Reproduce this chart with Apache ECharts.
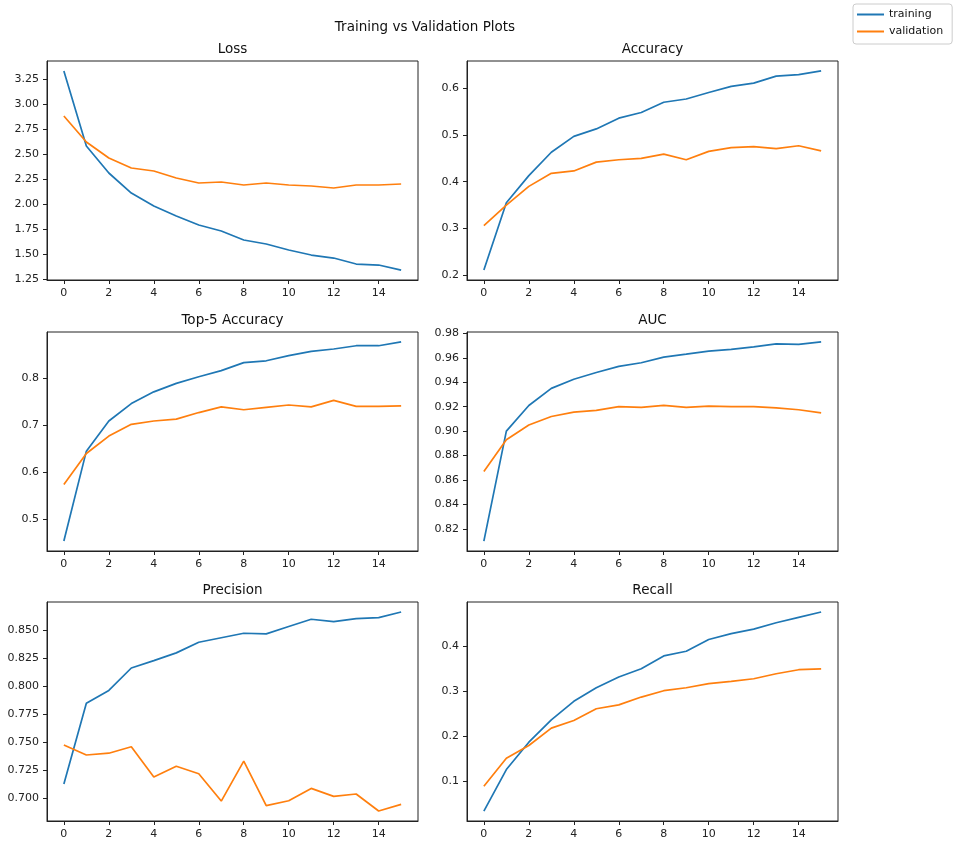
<!DOCTYPE html>
<html>
<head>
<meta charset="utf-8">
<script src="https://cdn.jsdelivr.net/npm/echarts@6/dist/echarts.min.js"></script>
<style>
  html, body { margin: 0; padding: 0; background: #fff; }
  #main { width: 954px; height: 843px; }
</style>
</head>
<body>
<div id="main"></div>
<script>
// epochs + tick labels
const epochs = [0, 1, 2, 3, 4, 5, 6, 7, 8, 9, 10, 11, 12, 13, 14, 15];
const xTicks = ['0', '2', '4', '6', '8', '10', '12', '14'];

// values
const lossTrain = [3.33, 2.58, 2.31, 2.11, 1.98, 1.88, 1.79, 1.73, 1.64, 1.60, 1.54, 1.49, 1.46, 1.40, 1.39, 1.34];
const lossVal   = [2.88, 2.62, 2.46, 2.36, 2.33, 2.26, 2.21, 2.22, 2.19, 2.21, 2.19, 2.18, 2.16, 2.19, 2.19, 2.20];
const lossTicks = ['1.25', '1.50', '1.75', '2.00', '2.25', '2.50', '2.75', '3.00', '3.25'];

const accTrain = [0.211, 0.355, 0.413, 0.463, 0.497, 0.513, 0.536, 0.548, 0.570, 0.577, 0.591, 0.604, 0.611, 0.626, 0.629, 0.637];
const accVal   = [0.306, 0.350, 0.390, 0.418, 0.423, 0.442, 0.447, 0.450, 0.459, 0.447, 0.465, 0.473, 0.475, 0.471, 0.477, 0.466];
const accTicks = ['0.2', '0.3', '0.4', '0.5', '0.6'];

const top5Train = [0.454, 0.645, 0.709, 0.746, 0.771, 0.789, 0.803, 0.816, 0.833, 0.837, 0.848, 0.857, 0.862, 0.869, 0.869, 0.877];
const top5Val   = [0.574, 0.640, 0.677, 0.702, 0.709, 0.713, 0.727, 0.739, 0.733, 0.738, 0.743, 0.739, 0.753, 0.740, 0.740, 0.741];
const top5Ticks = ['0.5', '0.6', '0.7', '0.8'];

const aucTrain = [0.810, 0.900, 0.921, 0.935, 0.9425, 0.948, 0.953, 0.956, 0.9606, 0.963, 0.9655, 0.967, 0.969, 0.9715, 0.971, 0.973];
const aucVal   = [0.867, 0.893, 0.905, 0.912, 0.9155, 0.917, 0.920, 0.9195, 0.921, 0.9195, 0.9205, 0.920, 0.920, 0.919, 0.9175, 0.915];
const aucTicks = ['0.82', '0.84', '0.86', '0.88', '0.90', '0.92', '0.94', '0.96', '0.98'];

const precTrain = [0.7125, 0.7845, 0.796, 0.816, 0.8226, 0.8295, 0.839, 0.843, 0.847, 0.8464, 0.853, 0.8595, 0.8574, 0.860, 0.861, 0.866];
const precVal   = [0.7473, 0.7384, 0.740, 0.7458, 0.7187, 0.7283, 0.7217, 0.6973, 0.733, 0.6932, 0.6976, 0.7086, 0.7015, 0.7036, 0.6884, 0.6943];
const precTicks = ['0.700', '0.725', '0.750', '0.775', '0.800', '0.825', '0.850'];

const recTrain = [0.0348, 0.1267, 0.1874, 0.237, 0.278, 0.308, 0.332, 0.350, 0.3785, 0.389, 0.415, 0.428, 0.438, 0.452, 0.464, 0.476];
const recVal   = [0.0896, 0.152, 0.180, 0.2185, 0.2356, 0.2615, 0.270, 0.2874, 0.3015, 0.308, 0.317, 0.322, 0.328, 0.339, 0.348, 0.350];
const recTicks = ['0.1', '0.2', '0.3', '0.4'];

const panels = [
  { name: 'Loss',           train: lossTrain, val: lossVal, ticks: lossTicks, left: 47,  top: 61 },
  { name: 'Accuracy',       train: accTrain,  val: accVal,  ticks: accTicks,  left: 467, top: 61 },
  { name: 'Top-5 Accuracy', train: top5Train, val: top5Val, ticks: top5Ticks, left: 47,  top: 332 },
  { name: 'AUC',            train: aucTrain,  val: aucVal,  ticks: aucTicks,  left: 467, top: 332 },
  { name: 'Precision',      train: precTrain, val: precVal, ticks: precTicks, left: 47,  top: 602 },
  { name: 'Recall',         train: recTrain,  val: recVal,  ticks: recTicks,  left: 467, top: 602 }
];
const W = 371, H = 219;
const FONT = 'DejaVu Sans';
const BLUE = '#1f77b4', ORANGE = '#ff7f0e';
const titleStyle = { fontFamily: FONT, fontSize: 13.5, fontWeight: 'normal', color: '#111' };
const spine = { color: '#222', width: 1 };

let grids = [], xAxes = [], yAxes = [], series = [];
let titles = [{ text: 'Training vs Validation Plots', left: 425, top: 20, textAlign: 'center', padding: 0, textStyle: titleStyle }];

panels.forEach((p, i) => {
  // matplotlib-style 5% margins
  const all = p.train.concat(p.val);
  const lo = Math.min(...all), hi = Math.max(...all), pad = (hi - lo) * 0.05;

  grids.push({ left: p.left, top: p.top, width: W, height: H, show: true, borderColor: '#222', borderWidth: 1, backgroundColor: 'transparent' });
  titles.push({ text: p.name, left: p.left + W / 2, top: p.top - 19, textAlign: 'center', padding: 0, textStyle: titleStyle });
  xAxes.push({
    type: 'value', gridIndex: i, min: -0.75, max: 15.75, position: 'bottom',
    axisLine: { show: true, onZero: false, lineStyle: spine }, splitLine: { show: false },
    axisTick: { show: true, inside: false, length: 4, lineStyle: spine, customValues: xTicks.map(Number) },
    axisLabel: { margin: 8, fontFamily: FONT, fontSize: 11, color: '#222', customValues: xTicks.map(Number), formatter: v => String(v) }
  });
  yAxes.push({
    type: 'value', gridIndex: i, min: lo - pad, max: hi + pad, position: 'left',
    axisLine: { show: true, onZero: false, lineStyle: spine }, splitLine: { show: false },
    axisTick: { show: true, inside: false, length: 4, lineStyle: spine, customValues: p.ticks.map(Number) },
    axisLabel: {
      margin: 8, fontFamily: FONT, fontSize: 11, color: '#222', customValues: p.ticks.map(Number),
      formatter: v => p.ticks.find(t => Math.abs(Number(t) - v) < 1e-9) || ''
    }
  });
  series.push({
    name: 'training', type: 'line', xAxisIndex: i, yAxisIndex: i, symbol: 'none',
    data: epochs.map((e, k) => [e, p.train[k]]), lineStyle: { color: BLUE, width: 1.7 }, itemStyle: { color: BLUE }
  });
  series.push({
    name: 'validation', type: 'line', xAxisIndex: i, yAxisIndex: i, symbol: 'none',
    data: epochs.map((e, k) => [e, p.val[k]]), lineStyle: { color: ORANGE, width: 1.7 }, itemStyle: { color: ORANGE }
  });
});

const chart = echarts.init(document.getElementById('main'));
chart.setOption({
  animation: false,
  backgroundColor: '#fff',
  title: titles,
  legend: {
    data: ['training', 'validation'], orient: 'vertical', left: 853, top: 4,
    icon: 'rect', itemWidth: 27, itemHeight: 2, itemGap: 4, padding: [4, 9, 6, 4],
    borderColor: '#ccc', borderWidth: 1, borderRadius: 3,
    textStyle: { fontFamily: FONT, fontSize: 11, lineHeight: 13, color: '#111' }
  },
  grid: grids,
  xAxis: xAxes,
  yAxis: yAxes,
  series: series
});
</script>
</body>
</html>
